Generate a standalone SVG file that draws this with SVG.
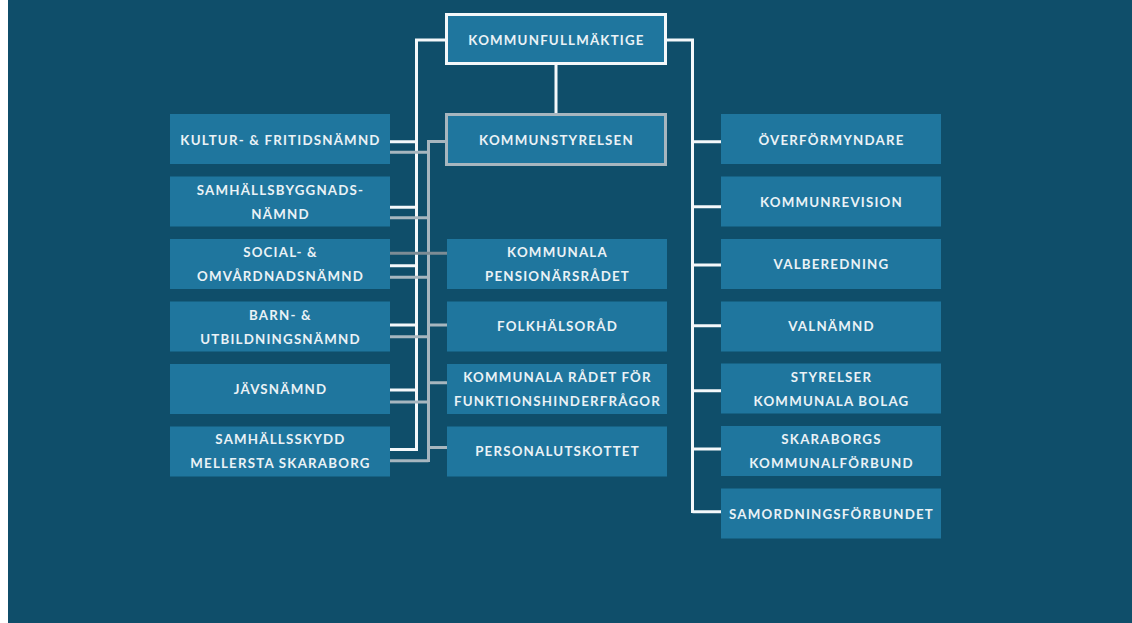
<svg xmlns="http://www.w3.org/2000/svg" width="1132" height="623" viewBox="0 0 1132 623">
  <style>
    .box { fill: #1f769e; }
    .t { font-family: Lato, "Open Sans", "Liberation Sans", sans-serif; font-weight: bold; font-size: 13.3px; letter-spacing: 1.2px; fill: #eaf2f6; text-anchor: middle; dominant-baseline: central; }
    .w { stroke: #f4f8fa; stroke-width: 3; fill: none; }
    .g { stroke: #a7b6bf; stroke-width: 3; fill: none; }
    .dg { stroke: #7d8c95; stroke-width: 3; fill: none; }
  </style>
  <rect x="0" y="0" width="1132" height="623" fill="#0f4e6a"/>
  <rect x="0" y="0" width="8" height="623" fill="#ffffff"/>

  <g id="connectors">
    <path class="w" d="M446 40 H416.5 V451"/>
    <path class="w" d="M666 40 H692.5 V513"/>
    <path class="w" d="M556 64 V113"/>
    <path class="g" d="M446 141.5 H428.5 V462"/>
    <path class="w" d="M390 141.7 H416.5 M390 207.3 H416.5 M390 265.7 H416.5 M390 325 H416.5 M390 390 H416.5 M390 449.5 H416.5"/>
    <path class="g" d="M390 152.3 H428.5 M390 217.7 H428.5 M390 277.3 H428.5 M390 336.7 H428.5 M390 402 H428.5 M390 460.7 H428.5"/>
    <path class="dg" d="M390 253.3 H447"/>
    <path class="g" d="M428.5 325 H447 M428.5 382.7 H447 M428.5 447.5 H447"/>
    <path class="w" d="M692.5 141.7 H721 M692.5 206.7 H721 M692.5 265 H721 M692.5 325.7 H721 M692.5 390.7 H721 M692.5 449 H721 M692.5 511.7 H721"/>
  </g>

  <g id="kommunfullmaktige">
    <rect class="box" x="446.5" y="14.5" width="219" height="49" stroke="#f4f8fa" stroke-width="3"/>
    <text class="t" x="556.5" y="40">KOMMUNFULLMÄKTIGE</text>
  </g>
  <g id="kommunstyrelsen">
    <rect class="box" x="446.5" y="114.5" width="219" height="50" stroke="#a7b6bf" stroke-width="3"/>
    <text class="t" x="556.5" y="140">KOMMUNSTYRELSEN</text>
  </g>

  <g id="kultur">
    <rect class="box" x="170" y="114" width="220" height="50"/>
    <text class="t" x="280.5" y="140">KULTUR- &amp; FRITIDSNÄMND</text>
  </g>
  <g id="samhallsbyggnad">
    <rect class="box" x="170" y="176.5" width="220" height="50"/>
    <text class="t" x="280.5" y="190">SAMHÄLLSBYGGNADS-</text>
    <text class="t" x="280.5" y="214">NÄMND</text>
  </g>
  <g id="social">
    <rect class="box" x="170" y="239" width="220" height="50"/>
    <text class="t" x="280.5" y="252">SOCIAL- &amp;</text>
    <text class="t" x="280.5" y="276">OMVÅRDNADSNÄMND</text>
  </g>
  <g id="barn">
    <rect class="box" x="170" y="301.5" width="220" height="50"/>
    <text class="t" x="280.5" y="315">BARN- &amp;</text>
    <text class="t" x="280.5" y="339">UTBILDNINGSNÄMND</text>
  </g>
  <g id="javs">
    <rect class="box" x="170" y="364" width="220" height="50"/>
    <text class="t" x="280.5" y="389">JÄVSNÄMND</text>
  </g>
  <g id="samhallsskydd">
    <rect class="box" x="170" y="426.5" width="220" height="50"/>
    <text class="t" x="280.5" y="439">SAMHÄLLSSKYDD</text>
    <text class="t" x="280.5" y="463">MELLERSTA SKARABORG</text>
  </g>

  <g id="pensionarsradet">
    <rect class="box" x="447" y="239" width="220" height="50"/>
    <text class="t" x="557.5" y="252">KOMMUNALA</text>
    <text class="t" x="557.5" y="276">PENSIONÄRSRÅDET</text>
  </g>
  <g id="folkhalsorad">
    <rect class="box" x="447" y="301.5" width="220" height="50"/>
    <text class="t" x="557.5" y="326">FOLKHÄLSORÅD</text>
  </g>
  <g id="funktionshinder">
    <rect class="box" x="447" y="364" width="220" height="50"/>
    <text class="t" x="557.5" y="377">KOMMUNALA RÅDET FÖR</text>
    <text class="t" x="557.5" y="401">FUNKTIONSHINDERFRÅGOR</text>
  </g>
  <g id="personalutskottet">
    <rect class="box" x="447" y="426.5" width="220" height="50"/>
    <text class="t" x="557.5" y="451">PERSONALUTSKOTTET</text>
  </g>

  <g id="overformyndare">
    <rect class="box" x="721" y="114" width="220" height="50"/>
    <text class="t" x="831.5" y="140">ÖVERFÖRMYNDARE</text>
  </g>
  <g id="kommunrevision">
    <rect class="box" x="721" y="176.5" width="220" height="50"/>
    <text class="t" x="831.5" y="202">KOMMUNREVISION</text>
  </g>
  <g id="valberedning">
    <rect class="box" x="721" y="239" width="220" height="50"/>
    <text class="t" x="831.5" y="264">VALBEREDNING</text>
  </g>
  <g id="valnamnd">
    <rect class="box" x="721" y="301.5" width="220" height="50"/>
    <text class="t" x="831.5" y="326">VALNÄMND</text>
  </g>
  <g id="styrelser">
    <rect class="box" x="721" y="363.5" width="220" height="50"/>
    <text class="t" x="831.5" y="377">STYRELSER</text>
    <text class="t" x="831.5" y="401">KOMMUNALA BOLAG</text>
  </g>
  <g id="skaraborgs">
    <rect class="box" x="721" y="426" width="220" height="50"/>
    <text class="t" x="831.5" y="439">SKARABORGS</text>
    <text class="t" x="831.5" y="463">KOMMUNALFÖRBUND</text>
  </g>
  <g id="samordningsforbundet">
    <rect class="box" x="721" y="488.5" width="220" height="50"/>
    <text class="t" x="831.5" y="514">SAMORDNINGSFÖRBUNDET</text>
  </g>
</svg>
